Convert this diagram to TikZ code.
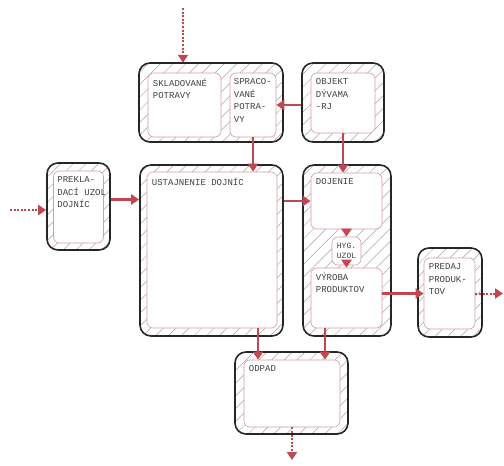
\documentclass[tikz,border=0pt]{standalone}
\usepackage{fontspec}
\newfontfamily\roomfont{Liberation Mono}
\usepackage{tikz}
\usetikzlibrary{arrows.meta,calc,positioning,patterns.meta}
\definecolor{flowred}{RGB}{192,72,82}
\tikzset{
    block/.style={rectangle, draw=black!85, line width=1.6pt, rounded corners=11pt, inner sep=0pt, pattern={Lines[angle=45,distance=9pt,line width=0.5pt]}, pattern color=gray!70},
    room/.style={rectangle, draw=flowred!55, fill=white, line width=0.6pt, rounded corners=6pt, inner sep=0pt},
    roomtext/.style={font=\roomfont\fontsize{9}{12.5}\selectfont, text=black!75, align=left, inner sep=0pt},
    flow/.style={draw=flowred, line width=2.4pt, -{Triangle[length=8pt,width=10pt]}},
    dotted flow/.style={flow, line width=2pt, dash pattern=on 2pt off 1.6pt},
}

\begin{document}
\begin{tikzpicture}[x=1pt, y=-1pt]
    \useasboundingbox (0,0) rectangle (504,466);

    % outer blocks
    \node[block, minimum width=144, minimum height=79] (potravy) at (211,102.5) {};
    \node[block, minimum width=82, minimum height=79] (objekt) at (343,102.5) {};
    \node[block, minimum width=63, minimum height=87] (prekladanie) at (78.5,206.5) {};
    \node[block, minimum width=143, minimum height=171] (ustajnenie) at (211.5,250.5) {};
    \node[block, minimum width=88, minimum height=171] (dojaren) at (347,250.5) {};
    \node[block, minimum width=64, minimum height=89] (predaj) at (450,292.5) {};
    \node[block, minimum width=113, minimum height=82] (odpad) at (291.5,393) {};

    % rooms
    \node[room, minimum width=73, minimum height=64] (skladovane) at (184.5,105) {};
    \node[room, minimum width=46, minimum height=64] (spracovane) at (253,105) {};
    \node[room, minimum width=64, minimum height=60] (objektIn) at (343,103) {};
    \node[room, minimum width=50, minimum height=72] (prekladanieIn) at (78.5,207) {};
    \node[room, minimum width=130, minimum height=156] (ustajnenieIn) at (212,250) {};
    \node[room, minimum width=71, minimum height=56] (dojenieIn) at (346.5,201) {};
    \node[room, roomtext, minimum width=29, minimum height=28, align=center, font=\roomfont\fontsize{8}{10.5}\selectfont] (hyg) at (346.5,251) {HYG.\\UZOL};
    \node[room, minimum width=71, minimum height=60] (vyroba) at (346.5,298) {};
    \node[room, minimum width=51, minimum height=71] (predajIn) at (449.5,293.5) {};
    \node[room, minimum width=96, minimum height=67] (odpadIn) at (292,393.5) {};

    \node[roomtext, below right=6pt and 5pt of skladovane.north west] (skladovaneText) {SKLADOVANÉ\\POTRAVY};
    \node[roomtext, below right=6pt and 4pt of spracovane.north west] (spracovaneText) {SPRACO-\\VANÉ\\POTRA-\\VY};
    \node[roomtext, below right=6pt and 5pt of objektIn.north west] (objektText) {OBJEKT\\DÝVAMA\\-RJ};
    \node[roomtext, below right=6pt and 4pt of prekladanieIn.north west] (prekladanieText) {PREKLA-\\DACÍ UZOL\\DOJNÍC};
    \node[roomtext, below right=6pt and 5pt of ustajnenieIn.north west] (ustajnenieText) {USTAJNENIE DOJNÍC};
    \node[roomtext, below right=6pt and 5pt of dojenieIn.north west] (dojenieText) {DOJENIE};
    \node[roomtext, below right=5pt and 5pt of vyroba.north west] (vyrobaText) {VÝROBA\\PRODUKTOV};
    \node[roomtext, below right=6pt and 5pt of predajIn.north west] (predajText) {PREDAJ\\PRODUK-\\TOV};
    \node[roomtext, below right=6pt and 5pt of odpadIn.north west] (odpadText) {ODPAD};

    % flows
    \coordinate (inTop) at (183,8);
    \coordinate (inLeft) at (10,210);
    \coordinate (outRight) at (503,293.5);
    \coordinate (outBottom) at (292,460);
    \coordinate (prekOut) at ([yshift=7pt]prekladanie.east);
    \coordinate (odpadL) at (258,393);
    \coordinate (odpadR) at (325,393);

    \draw[dotted flow] (inTop) -- (inTop |- potravy.north);
    \draw[flow] (objekt.west |- spracovane.east) -- (spracovane.east);
    \draw[flow] (spracovane.south) -- (spracovane.south |- ustajnenieIn.north);
    \draw[flow] (objektIn.south) -- (objektIn.south |- dojenieIn.north);
    \draw[dotted flow] (inLeft) -- (inLeft -| prekladanie.west);
    \draw[flow] (prekOut) -- (prekOut -| ustajnenie.west);
    \draw[flow] (ustajnenie.east |- dojenieIn.west) -- (dojenieIn.west);
    \draw[flow] (dojenieIn.south) -- (hyg.north);
    \draw[flow] (hyg.south) -- (vyroba.north);
    \draw[flow] (vyroba.east |- predajIn.west) -- (predajIn.west);
    \draw[dotted flow] (predajIn.east) -- (outRight);
    \draw[flow] (odpadL |- ustajnenieIn.south) -- (odpadL |- odpadIn.north);
    \draw[flow] (odpadR |- vyroba.south) -- (odpadR |- odpadIn.north);
    \draw[dotted flow] (odpadIn.south) -- (outBottom);
\end{tikzpicture}
\end{document}
